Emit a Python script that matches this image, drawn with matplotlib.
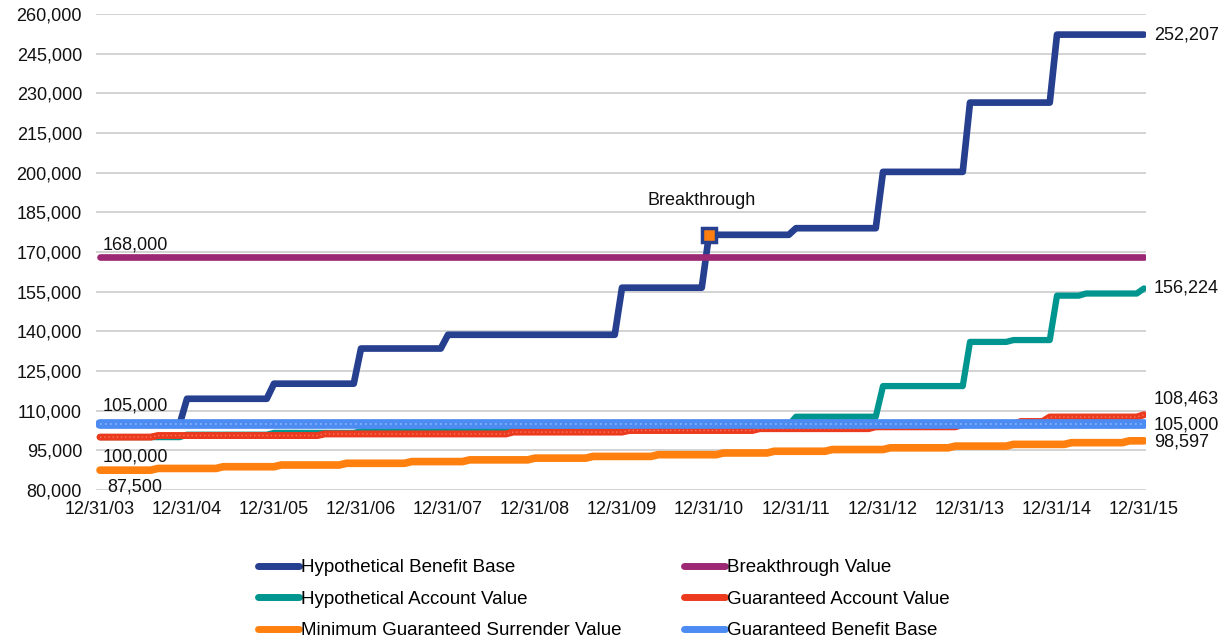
import matplotlib
matplotlib.use("Agg")
import matplotlib.pyplot as plt

plt.rcParams["font.family"] = ["Liberation Sans", "DejaVu Sans"]

# ---------------------------------------------------------------------------
# Data (months since 12/31/03; each series is a start value plus step changes)
# ---------------------------------------------------------------------------
END_MONTH = 144
tick_months = [0, 12, 24, 36, 48, 60, 72, 84, 96, 108, 120, 132, 144]
tick_labels = ["12/31/03", "12/31/04", "12/31/05", "12/31/06", "12/31/07",
               "12/31/08", "12/31/09", "12/31/10", "12/31/11", "12/31/12",
               "12/31/13", "12/31/14", "12/31/15"]
y_ticks = list(range(80000, 260001, 15000))

benefit_base_start = 105000
benefit_base_months = [12, 24, 36, 48, 72, 84, 96, 108, 120, 132]
benefit_base_values = [114500, 120200, 133500, 138700, 156500, 176500,
                       179000, 200300, 226500, 252207]

account_value_start = 100000
account_value_months = [12, 24, 36, 48, 72, 84, 96, 108, 120, 126, 132, 136, 144]
account_value_values = [100900, 101600, 102200, 103300, 103700, 104500,
                        107700, 119300, 136000, 136700, 153500, 154300, 156224]

surrender_start = 87500
surrender_months = [8, 17, 25, 34, 43, 51, 60, 68, 77, 86, 93, 101, 109,
                    118, 126, 134, 142]
surrender_values = [88150, 88800, 89450, 90100, 90750, 91400, 92050, 92700,
                    93350, 94000, 94650, 95300, 95950, 96600, 97250, 97900,
                    98597]

guar_account_start = 100000
guar_account_months = [8, 31, 57, 73, 91, 107, 119, 127, 131, 144]
guar_account_values = [100600, 101200, 101900, 102500, 103200, 103900,
                       104800, 105900, 107600, 108463]

breakthrough_value = 168000
guar_benefit_base = 105000

breakthrough_month = 84
breakthrough_point = 176500

COLORS = {
    "hbb": "#263F8F",
    "btv": "#9C2773",
    "hav": "#00958F",
    "gav": "#EC3A1E",
    "mgsv": "#FF800E",
    "gbb": "#4C8BF2",
}


def step_path(start, months, values, end=END_MONTH):
    """Vertices of a step line that ramps over the month before each change."""
    xs, ys = [0], [start]
    prev = start
    for m, v in zip(months, values):
        xs += [m - 1, m]
        ys += [prev, v]
        prev = v
    if xs[-1] < end:
        xs.append(end)
        ys.append(prev)
    return xs, ys


fig = plt.figure(figsize=(12.28, 6.41), dpi=100)
ax = fig.add_axes([96 / 1228, 1 - 490 / 641, (1146 - 96) / 1228, (490 - 14) / 641])

line_kw = dict(solid_capstyle="round", solid_joinstyle="round")

xs, ys = step_path(benefit_base_start, benefit_base_months, benefit_base_values)
ax.plot(xs, ys, color=COLORS["hbb"], lw=4.8, zorder=2,
        label="Hypothetical Benefit Base", **line_kw)

ax.plot([0, END_MONTH], [breakthrough_value] * 2, color=COLORS["btv"], lw=4.8,
        zorder=6, label="Breakthrough Value", **line_kw)

xs, ys = step_path(account_value_start, account_value_months, account_value_values)
ax.plot(xs, ys, color=COLORS["hav"], lw=4.5, zorder=3,
        label="Hypothetical Account Value", **line_kw)

xs, ys = step_path(guar_account_start, guar_account_months, guar_account_values)
ax.plot(xs, ys, color=COLORS["gav"], lw=5.0, zorder=4,
        label="Guaranteed Account Value", **line_kw)
ax.plot(xs, ys, color="#F27A60", lw=1.0, ls=(0, (1, 2)), zorder=4.1)

xs, ys = step_path(surrender_start, surrender_months, surrender_values)
ax.plot(xs, ys, color=COLORS["mgsv"], lw=5.5, zorder=3,
        label="Minimum Guaranteed Surrender Value", **line_kw)

ax.plot([0, END_MONTH], [guar_benefit_base] * 2, color=COLORS["gbb"], lw=7,
        zorder=5, label="Guaranteed Benefit Base", **line_kw)
ax.plot([0, END_MONTH], [guar_benefit_base] * 2, color="#8DB6F7", lw=1.2,
        ls=(0, (1, 2)), zorder=5.1)

ax.plot([breakthrough_month], [breakthrough_point], marker="s", ms=10,
        mfc=COLORS["mgsv"], mec=COLORS["hbb"], mew=2.5, zorder=7)

# Axes styling
ax.set_xlim(-4 / 7.25, END_MONTH + 2 / 7.25)
ax.set_ylim(80000, 260000)
ax.set_xticks(tick_months)
ax.set_xticklabels(tick_labels)
ax.set_yticks(y_ticks)
ax.set_yticklabels([f"{v:,}" for v in y_ticks])
ax.tick_params(axis="both", length=0, labelsize=13, colors="#111111")
ax.tick_params(axis="y", pad=10)
ax.tick_params(axis="x", pad=8)
ax.grid(axis="y", color="#C8C8C8", lw=1.1, zorder=0)
ax.set_axisbelow(True)
for side in ax.spines.values():
    side.set_visible(False)

# Value labels
txt = dict(fontsize=13, color="#111111", textcoords="offset points",
           annotation_clip=False)
ax.annotate("252,207", xy=(END_MONTH, benefit_base_values[-1]), xytext=(7, 0),
            ha="left", va="center", **txt)
ax.annotate("156,224", xy=(END_MONTH, account_value_values[-1]), xytext=(7, 0),
            ha="left", va="center", **txt)
ax.annotate("108,463", xy=(END_MONTH, guar_account_values[-1]), xytext=(7, 11),
            ha="left", va="center", **txt)
ax.annotate("105,000", xy=(END_MONTH, guar_benefit_base), xytext=(7, -1),
            ha="left", va="center", **txt)
ax.annotate("98,597", xy=(END_MONTH, surrender_values[-1]), xytext=(7, -1),
            ha="left", va="center", **txt)

ax.annotate("168,000", xy=(0, breakthrough_value), xytext=(2, 9),
            ha="left", va="center", **txt)
ax.annotate("105,000", xy=(0, guar_benefit_base), xytext=(2, 13),
            ha="left", va="center", **txt)
ax.annotate("100,000", xy=(0, guar_account_start), xytext=(2, -14),
            ha="left", va="center", **txt)
ax.annotate("87,500", xy=(0, surrender_start), xytext=(5, -12),
            ha="left", va="center", **txt)
ax.annotate("Breakthrough", xy=(breakthrough_month, breakthrough_point),
            xytext=(-5, 25), ha="center", va="center", **txt)

# Legend (two columns, below the plot)
handles, labels = ax.get_legend_handles_labels()
order = [0, 2, 4, 1, 3, 5]
leg = fig.legend([handles[i] for i in order], [labels[i] for i in order],
                 loc="upper left", bbox_to_anchor=(258 / 1228, 1 - 559 / 641),
                 ncol=2, frameon=False, fontsize=13.5, borderpad=0,
                 borderaxespad=0, handlelength=2.2, handletextpad=0.1,
                 columnspacing=3.3, labelspacing=0.77)
for line in leg.get_lines():
    line.set_linewidth(5)
    line.set_solid_capstyle("round")

fig.savefig("out.png", dpi=100)
